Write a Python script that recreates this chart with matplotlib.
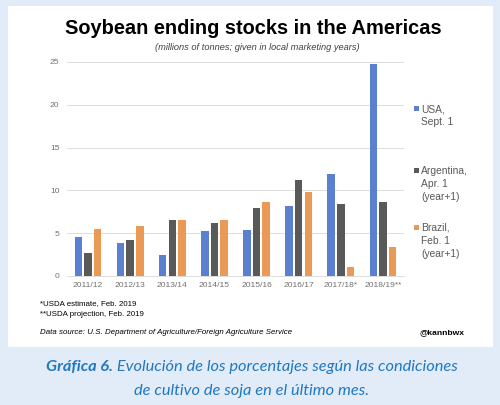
import numpy as np
import matplotlib
matplotlib.use("Agg")
import matplotlib.pyplot as plt
from matplotlib.patches import Rectangle

plt.rcParams["font.family"] = ["Liberation Sans", "DejaVu Sans"]

seasons   = ["2011/12", "2012/13", "2013/14", "2014/15", "2015/16",
             "2016/17", "2017/18*", "2018/19**"]
usa       = [4.6, 3.8, 2.45, 5.2, 5.35, 8.2, 11.9, 24.8]
argentina = [2.65, 4.2, 6.6, 6.15, 8.0, 11.2, 8.4, 8.6]
brazil    = [5.45, 5.85, 6.55, 6.5, 8.65, 9.8, 1.1, 3.35]
labels    = ["USA,\nSept. 1", "Argentina,\nApr. 1\n(year+1)", "Brazil,\nFeb. 1\n(year+1)"]

BG     = "#e2ecf8"
BLUE   = "#5b80cf"
GREY   = "#595959"
ORANGE = "#eb9a55"
TICK   = "#707070"
GRID   = "#dcdcdc"
CAP    = "#1f78c1"

W, H = 500, 405
fig = plt.figure(figsize=(W / 100, H / 100), dpi=100, facecolor=BG)

# white card behind everything
fig.patches.append(Rectangle((8 / W, 1 - 347 / H), 485 / W, 341 / H,
                             transform=fig.transFigure, facecolor="white",
                             edgecolor="none", zorder=-10))

ax = fig.add_axes([67 / W, 1 - 276 / H, 337 / W, (276 - 62) / H])
ax.set_facecolor("none")

x = np.arange(len(seasons))
bw = 0.18
gap = 0.048
for i, (vals, col) in enumerate([(usa, BLUE), (argentina, GREY), (brazil, ORANGE)]):
    ax.bar(x + (i - 1) * (bw + gap), vals, width=bw, color=col, zorder=3)

ax.set_xlim(-0.5, len(seasons) - 0.5)
ax.set_ylim(0, 25)
ax.set_yticks([0, 5, 10, 15, 20, 25])
ax.set_xticks(x)
ax.set_xticklabels(seasons)
ax.tick_params(axis="both", length=0, labelsize=6.1, colors=TICK)
ax.tick_params(axis="y", pad=5.5)
ax.tick_params(axis="x", pad=4)
ax.grid(axis="y", color=GRID, linewidth=0.7, zorder=0)
for s in ["top", "right", "left"]:
    ax.spines[s].set_visible(False)
ax.spines["bottom"].set_color(GRID)
ax.spines["bottom"].set_linewidth(0.7)

# legend
leg_y = [108, 170, 227]
for lab, col, yy in zip(labels, [BLUE, GREY, ORANGE], leg_y):
    fig.patches.append(Rectangle((414 / W, 1 - (yy + 3) / H), 5 / W, 5 / H,
                                 transform=fig.transFigure, facecolor=col,
                                 edgecolor="none"))
    fig.text(421 / W, 1 - (yy - 4) / H, lab, ha="left", va="top",
             fontsize=7.4, color="#595959", linespacing=1.35)

fig.text(253 / W, 1 - 29 / H, "Soybean ending stocks in the Americas",
         ha="center", va="center", fontsize=14.4, fontweight="bold", color="black")
fig.text(257 / W, 1 - 47 / H, "(millions of tonnes; given in local marketing years)",
         ha="center", va="center", fontsize=6.7, style="italic", color="#404040")

fig.text(40 / W, 1 - 304 / H, "*USDA estimate, Feb. 2019", ha="left", va="center",
         fontsize=5.7, color="black")
fig.text(40 / W, 1 - 314 / H, "**USDA projection, Feb. 2019", ha="left", va="center",
         fontsize=5.7, color="black")
fig.text(40 / W, 1 - 333 / H,
         "Data source: U.S. Department of Agriculture/Foreign Agriculture Service",
         ha="left", va="center", fontsize=5.65, style="italic", color="black")
fig.text(464 / W, 1 - 333 / H, "@kannbwx", ha="right", va="center",
         fontsize=6.1, fontweight="bold", color="black")

# caption: bold-italic lead-in followed by italic text, centred as one line
cap_font = ["Lato", "DejaVu Sans"]
cap_size = 11.8
renderer = fig.canvas.get_renderer()
t1 = fig.text(0, 1 - 367 / H, "Gráfica 6.", ha="left", va="center", family=cap_font,
              fontsize=cap_size, style="italic", fontweight="bold", color=CAP)
t2 = fig.text(0, 1 - 367 / H, " Evolución de los porcentajes según las condiciones",
              ha="left", va="center", family=cap_font,
              fontsize=cap_size, style="italic", color=CAP)
w1 = t1.get_window_extent(renderer).width
w2 = t2.get_window_extent(renderer).width
x0 = 252 - (w1 + w2) / 2
t1.set_x(x0 / W)
t2.set_x((x0 + w1) / W)
fig.text(252 / W, 1 - 391 / H, "de cultivo de soja en el último mes.",
         ha="center", va="center", family=cap_font,
         fontsize=cap_size, style="italic", color=CAP)

fig.savefig("out.png", dpi=100, facecolor=BG)
